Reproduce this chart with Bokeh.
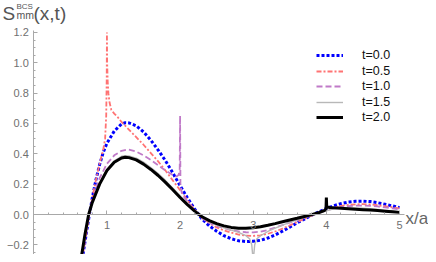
from bokeh.plotting import figure
from bokeh.models import FixedTicker, Label, Legend, LegendItem, Range1d, CustomJSTickFormatter
from bokeh.embed import file_html
from bokeh.resources import INLINE

# ---- data ----
x_t00 = [0.64,0.7,0.76,0.8,0.85,0.9,0.95,1.0,1.1,1.2,1.25,1.3,1.4,1.5,1.6,1.7,1.8,1.9,2.0,
         2.1,2.2,2.3,2.4,2.5,2.6,2.7,2.8,2.9,3.0,3.1,3.2,3.3,3.4,3.5,3.6,3.7,3.8,3.9,4.0,
         4.1,4.2,4.3,4.4,4.5,4.6,4.7,4.8,4.9,5.0]
y_t00 = [-0.36,-0.18,0.0,0.11,0.23,0.33,0.41,0.47,0.55,0.597,0.605,0.604,0.585,0.545,0.49,0.425,0.355,0.275,0.19,
         0.11,0.035,-0.03,-0.075,-0.11,-0.14,-0.16,-0.173,-0.178,-0.177,-0.17,-0.155,-0.135,-0.11,-0.083,-0.055,-0.03,-0.005,0.018,0.04,
         0.058,0.072,0.082,0.087,0.088,0.085,0.078,0.068,0.057,0.045]

x_t05 = [0.64,0.7,0.76,0.8,0.85,0.9,0.95,0.975,0.99,0.997,1.0,1.003,1.01,1.02,1.035,1.06,1.1,1.15,1.2,
         1.3,1.4,1.5,1.6,1.7,1.8,1.9,2.0,2.1,2.2,2.3,2.4,2.5,2.6,2.7,2.8,2.9,3.0,
         3.1,3.2,3.3,3.4,3.5,3.6,3.7,3.8,3.9,4.0,4.1,4.2,4.3,4.4,4.5,4.6,4.7,4.8,4.9,5.0]
y_t05 = [-0.36,-0.18,0.0,0.11,0.23,0.335,0.43,0.5,0.65,0.9,1.2,1.0,0.88,0.8,0.74,0.69,0.665,0.64,0.61,
         0.56,0.51,0.46,0.405,0.35,0.29,0.225,0.16,0.095,0.03,-0.02,-0.055,-0.085,-0.105,-0.12,-0.132,-0.139,-0.141,
         -0.137,-0.127,-0.112,-0.093,-0.072,-0.05,-0.028,-0.008,0.012,0.03,0.045,0.056,0.063,0.067,0.068,0.066,0.061,0.055,0.048,0.04]

x_t10 = [0.64,0.7,0.76,0.8,0.9,1.0,1.1,1.2,1.27,1.3,1.4,1.5,1.6,1.7,1.8,1.9,
         1.95,1.98,1.995,2.0,2.005,2.02,2.05,2.1,2.2,2.3,2.4,2.5,2.6,2.7,2.8,2.9,3.0,
         3.1,3.2,3.3,3.4,3.5,3.6,3.7,3.8,3.9,4.0,4.1,4.2,4.3,4.4,4.5,4.6,4.7,4.8,4.9,5.0]
y_t10 = [-0.35,-0.16,0.0,0.09,0.24,0.335,0.39,0.42,0.428,0.427,0.415,0.39,0.36,0.325,0.29,0.26,
         0.25,0.26,0.3,0.65,0.2,0.15,0.12,0.085,0.025,-0.025,-0.055,-0.075,-0.09,-0.103,-0.112,-0.117,-0.118,
         -0.113,-0.102,-0.087,-0.07,-0.053,-0.037,-0.02,-0.004,0.012,0.028,0.04,0.049,0.055,0.058,0.059,0.057,0.053,0.047,0.04,0.033]

x_t15 = [0.63,0.7,0.75,0.8,0.9,1.0,1.1,1.2,1.25,1.3,1.4,1.5,1.6,1.7,1.8,1.9,2.0,
         2.1,2.2,2.3,2.4,2.5,2.6,2.7,2.8,2.9,2.95,2.98,2.995,3.0,3.005,3.02,3.05,
         3.1,3.2,3.3,3.4,3.5,3.6,3.7,3.8,3.9,4.0,4.1,4.2,4.3,4.4,4.5,4.6,4.7,4.8,4.9,5.0]
y_t15 = [-0.34,-0.13,0.0,0.085,0.205,0.297,0.354,0.384,0.388,0.386,0.372,0.345,0.31,0.27,0.225,0.175,0.123,
         0.072,0.025,-0.018,-0.048,-0.07,-0.088,-0.103,-0.118,-0.14,-0.16,-0.2,-0.28,-0.5,-0.28,-0.2,-0.16,
         -0.14,-0.112,-0.09,-0.07,-0.052,-0.035,-0.02,-0.005,0.01,0.025,0.037,0.042,0.043,0.043,0.041,0.038,0.034,0.029,0.024,0.019]

x_t20 = [0.63,0.7,0.75,0.8,0.9,1.0,1.1,1.2,1.25,1.3,1.4,1.5,1.6,1.7,1.8,1.9,2.0,
         2.1,2.2,2.3,2.4,2.5,2.6,2.7,2.8,2.9,3.0,3.1,3.2,3.3,3.4,3.5,3.6,3.7,3.8,3.9,
         3.97,3.995,4.0,4.005,4.05,4.1,4.2,4.3,4.4,4.5,4.6,4.7,4.8,4.9,5.0]
y_t20 = [-0.34,-0.13,0.0,0.08,0.2,0.29,0.345,0.373,0.378,0.375,0.36,0.332,0.297,0.257,0.212,0.163,0.112,
         0.065,0.022,-0.015,-0.04,-0.06,-0.075,-0.085,-0.09,-0.091,-0.088,-0.081,-0.071,-0.06,-0.048,-0.036,-0.025,-0.013,-0.001,0.013,
         0.025,0.036,0.112,0.05,0.046,0.044,0.041,0.038,0.035,0.032,0.029,0.026,0.022,0.018,0.014]

series_labels = ["t=0.0", "t=0.5", "t=1.0", "t=1.5", "t=2.0"]

x_major_ticks = [1, 2, 3, 4, 5]
x_minor_ticks = [0.2,0.4,0.6,0.8,1.2,1.4,1.6,1.8,2.2,2.4,2.6,2.8,3.2,3.4,3.6,3.8,4.2,4.4,4.6,4.8]
y_major_ticks = [-0.2, 0.0, 0.2, 0.4, 0.6, 0.8, 1.0, 1.2]
y_minor_ticks = [-0.3,-0.25,-0.15,-0.1,-0.05,0.05,0.1,0.15,0.25,0.3,0.35,0.45,0.5,0.55,0.65,0.7,0.75,
                 0.85,0.9,0.95,1.05,1.1,1.15]

# ---- figure ----
W, H = 428, 254
X0, XS = 33.3, 73.14     # pixel of x=0, pixels per unit
Y0, YS = 214.0, 151.67   # pixel of y=0, pixels per unit

p = figure(width=W, height=H, output_backend="svg", toolbar_location=None,
           x_range=Range1d(-X0 / XS, (W - X0) / XS),
           y_range=Range1d((Y0 - H) / YS, Y0 / YS),
           min_border=0, min_border_left=0, min_border_right=0,
           min_border_top=0, min_border_bottom=0)
p.outline_line_color = None
p.xgrid.visible = False
p.ygrid.visible = False
p.background_fill_color = "white"

axis_col = "#a8a8a8"
lab_col = "#707070"
for ax in (p.xaxis[0], p.yaxis[0]):
    ax.fixed_location = 0
    ax.axis_line_color = axis_col
    ax.major_tick_line_color = axis_col
    ax.minor_tick_line_color = axis_col
    ax.major_tick_in = 4
    ax.major_tick_out = 0
    ax.minor_tick_in = 2
    ax.minor_tick_out = 0
    ax.major_label_text_color = lab_col
    ax.major_label_text_font = "Liberation Sans"
    ax.major_label_text_font_size = "11px"
p.xaxis.major_label_standoff = 6
p.yaxis.major_label_standoff = 5

p.xaxis.ticker = FixedTicker(ticks=x_major_ticks, minor_ticks=x_minor_ticks)
p.yaxis.ticker = FixedTicker(ticks=y_major_ticks, minor_ticks=y_minor_ticks)
p.xaxis.bounds = (0, 5.07)
p.yaxis.bounds = (-0.4, 1.215)
p.yaxis.formatter = CustomJSTickFormatter(code="return tick.toFixed(1).replace('-', '\\u2212');")
p.xaxis.formatter = CustomJSTickFormatter(code="return tick.toFixed(0);")

r0 = p.line(x_t00, y_t00, line_color="#0000ff", line_width=3, line_dash="3 2", line_cap="butt")
r1 = p.line(x_t05, y_t05, line_color="#ff7373", line_width=1.8, line_dash="5 2 2 2")
r2 = p.line(x_t10, y_t10, line_color="#c07ac8", line_width=1.8, line_dash="6 3")
r3 = p.line(x_t15, y_t15, line_color="#b8b8b8", line_width=1.4)
r4 = p.line(x_t20, y_t20, line_color="#000000", line_width=3)

# one legend block per entry, so that the row pitch is exact
ROW_H = 20
row_centers = [55, 70.5, 86, 101.5, 117]
for lab, r, c in zip(series_labels, [r0, r1, r2, r3, r4], row_centers):
    lg = Legend(items=[LegendItem(label=lab, renderers=[r])],
                location=(316, H - c - ROW_H / 2))
    lg.border_line_color = None
    lg.background_fill_alpha = 0
    lg.padding = 0
    lg.margin = 0
    lg.spacing = 0
    lg.glyph_height = ROW_H
    lg.glyph_width = 27
    lg.label_height = ROW_H
    lg.label_standoff = 19
    lg.label_text_font = "Liberation Sans"
    lg.label_text_font_size = "12.5px"
    lg.label_text_color = "#111111"
    p.add_layout(lg)

def px2x(fx):
    return (fx - X0) / XS

def px2y(fy):
    return (Y0 - fy) / YS

title_col = "#555555"
p.add_layout(Label(x=px2x(2), y=px2y(13), text="S", text_font="Liberation Sans",
                   text_font_size="19px", text_color=title_col, text_baseline="alphabetic"))
p.add_layout(Label(x=px2x(16), y=px2y(5.5), text="BCS", text_font="Liberation Sans",
                   text_font_size="8px", text_color=title_col, text_baseline="alphabetic"))
p.add_layout(Label(x=px2x(16), y=px2y(14), text="mm", text_font="Liberation Sans",
                   text_font_size="10.5px", text_color=title_col, text_baseline="alphabetic"))
p.add_layout(Label(x=px2x(33), y=px2y(13), text="(x,t)", text_font="Liberation Sans",
                   text_font_size="19px", text_color=title_col, text_baseline="alphabetic"))
p.add_layout(Label(x=px2x(405), y=px2y(218), text="x/a", text_font="Liberation Sans",
                   text_font_size="17px", text_color="#666666", text_baseline="alphabetic"))

open("out.html", "w", encoding="utf-8").write(file_html(p, INLINE))
